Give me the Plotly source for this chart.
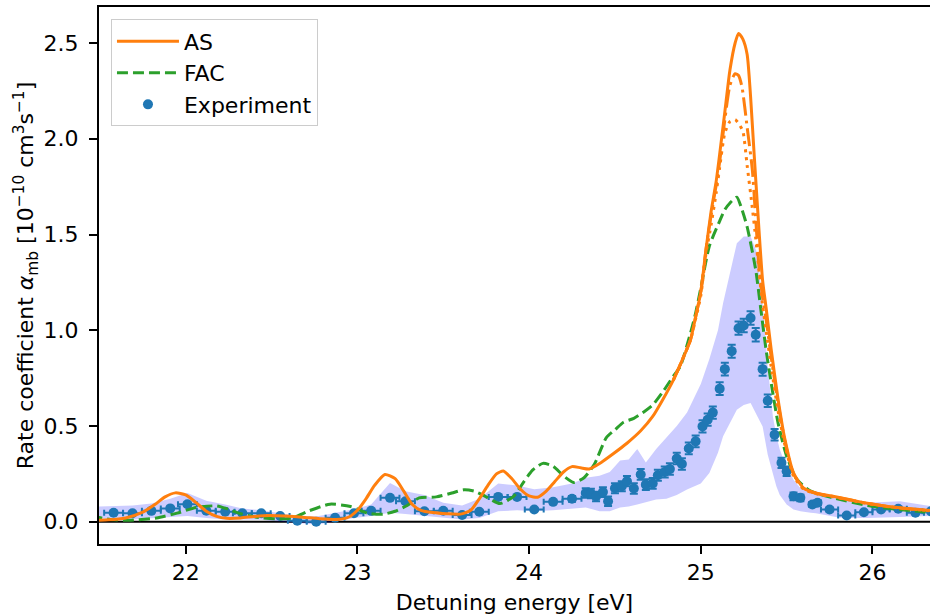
import plotly.graph_objects as go

# ---------------- data ----------------
as_x = [21.45, 21.55, 21.65, 21.75, 21.82, 21.88, 21.94, 22.00, 22.06, 22.12, 22.18, 22.24,
        22.32, 22.40, 22.49, 22.58, 22.68, 22.78, 22.88, 22.95, 23.00, 23.05, 23.10, 23.16,
        23.22, 23.27, 23.32, 23.37, 23.44, 23.52, 23.60, 23.66, 23.71, 23.76, 23.81, 23.85,
        23.90, 23.95, 24.00, 24.05, 24.10, 24.15, 24.20, 24.25, 24.30, 24.35, 24.42, 24.49,
        24.57, 24.65, 24.72, 24.78, 24.84, 24.89, 24.94, 24.97, 25.00, 25.03, 25.06, 25.09,
        25.11, 25.14, 25.17, 25.20, 25.22, 25.245, 25.27, 25.29, 25.31, 25.34, 25.36, 25.38,
        25.41, 25.45, 25.49, 25.54, 25.60, 25.68, 25.77, 25.87, 25.97, 26.07, 26.16, 26.26, 26.35]
as_y = [0.008, 0.010, 0.020, 0.050, 0.090, 0.130, 0.151, 0.140, 0.100, 0.055, 0.028, 0.018,
        0.020, 0.028, 0.033, 0.030, 0.024, 0.016, 0.012, 0.025, 0.060, 0.120, 0.190, 0.247,
        0.225, 0.160, 0.090, 0.060, 0.048, 0.042, 0.040, 0.060, 0.120, 0.190, 0.250, 0.265,
        0.225, 0.170, 0.135, 0.128, 0.160, 0.210, 0.260, 0.288, 0.282, 0.276, 0.310, 0.355,
        0.410, 0.475, 0.550, 0.640, 0.740, 0.840, 0.950, 1.070, 1.200, 1.420, 1.620, 1.780,
        1.920, 2.140, 2.360, 2.500, 2.550, 2.520, 2.440, 2.220, 1.930, 1.510, 1.260, 1.120,
        0.900, 0.640, 0.430, 0.255, 0.175, 0.148, 0.133, 0.115, 0.097, 0.083, 0.073, 0.065, 0.058]

# AS variants (dash-dot and dotted) around the main resonance
asdd_x = [24.84, 24.89, 24.94, 24.97, 25.00, 25.03, 25.06, 25.09, 25.11, 25.14, 25.17, 25.20,
          25.22, 25.24, 25.27, 25.30, 25.32, 25.34, 25.36, 25.38, 25.41, 25.45, 25.49, 25.54,
          25.60, 25.68, 25.77, 25.87, 25.97, 26.07, 26.16, 26.26, 26.35]
asdd_y = [0.740, 0.840, 0.950, 1.070, 1.200, 1.420, 1.600, 1.760, 1.880, 2.100, 2.280, 2.340,
          2.330, 2.270, 2.060, 1.840, 1.580, 1.320, 1.170, 1.060, 0.860, 0.620, 0.420, 0.250,
          0.172, 0.146, 0.132, 0.114, 0.096, 0.082, 0.072, 0.064, 0.057]
asdot_x = [24.84, 24.89, 24.94, 24.97, 25.00, 25.03, 25.06, 25.09, 25.11, 25.14, 25.17, 25.20,
           25.22, 25.245, 25.27, 25.30, 25.32, 25.34, 25.36, 25.38, 25.41, 25.45, 25.49, 25.54,
           25.60, 25.68, 25.77, 25.87, 25.97, 26.07, 26.16, 26.26, 26.35]
asdot_y = [0.740, 0.840, 0.950, 1.060, 1.180, 1.400, 1.550, 1.720, 1.850, 2.030, 2.090, 2.100,
           2.080, 2.040, 1.860, 1.640, 1.480, 1.300, 1.130, 1.000, 0.810, 0.580, 0.400, 0.240,
           0.170, 0.145, 0.131, 0.113, 0.095, 0.081, 0.071, 0.063, 0.056]

fac_x = [21.45, 21.56, 21.68, 21.83, 21.95, 22.06, 22.18, 22.25, 22.32, 22.43, 22.53, 22.62,
         22.72, 22.84, 22.96, 23.06, 23.15, 23.22, 23.29, 23.36, 23.46, 23.55, 23.62, 23.68,
         23.74, 23.83, 23.91, 23.97, 24.02, 24.08, 24.14, 24.20, 24.26, 24.32, 24.38, 24.45,
         24.50, 24.55, 24.61, 24.67, 24.72, 24.78, 24.84, 24.88, 24.94, 24.97, 25.00, 25.05,
         25.11, 25.14, 25.17, 25.21, 25.24, 25.27, 25.32, 25.35, 25.38, 25.41, 25.45, 25.50,
         25.56, 25.64, 25.77, 25.97, 26.16, 26.35]
fac_y = [0.030, 0.012, 0.008, 0.020, 0.045, 0.075, 0.083, 0.065, 0.042, 0.022, 0.015, 0.020,
         0.058, 0.092, 0.080, 0.045, 0.040, 0.055, 0.085, 0.125, 0.130, 0.150, 0.167, 0.160,
         0.135, 0.095, 0.133, 0.210, 0.270, 0.305, 0.290, 0.240, 0.205, 0.230, 0.300, 0.440,
         0.480, 0.520, 0.540, 0.575, 0.610, 0.680, 0.760, 0.810, 0.985, 1.090, 1.220, 1.440,
         1.570, 1.630, 1.665, 1.695, 1.630, 1.540, 1.316, 1.107, 0.900, 0.725, 0.516, 0.342,
         0.221, 0.160, 0.125, 0.085, 0.064, 0.047]

exp_x = [21.58, 21.69, 21.80, 21.91, 22.01, 22.12, 22.23, 22.33, 22.44, 22.55,
         22.65, 22.76, 22.87, 22.98, 23.08, 23.19, 23.28, 23.39, 23.50, 23.61,
         23.71, 23.82, 23.93, 24.03, 24.14, 24.25, 24.33, 24.36, 24.39, 24.43,
         24.46, 24.50, 24.54, 24.57, 24.61, 24.65, 24.68, 24.72, 24.75, 24.79,
         24.82, 24.86, 24.89, 24.93, 24.97, 25.01, 25.04, 25.07, 25.11, 25.14,
         25.18, 25.22, 25.25, 25.29, 25.32, 25.36, 25.39, 25.43, 25.47, 25.50,
         25.54, 25.58, 25.65, 25.68, 25.75, 25.85, 25.95, 26.05, 26.15, 26.25,
         26.34]
exp_y = [0.047, 0.045, 0.057, 0.070, 0.092, 0.058, 0.052, 0.045, 0.045, 0.030,
         0.005, 0.000, 0.021, 0.045, 0.057, 0.125, 0.107, 0.055, 0.058, 0.035,
         0.052, 0.130, 0.130, 0.064, 0.104, 0.120, 0.150, 0.148, 0.132, 0.155,
         0.107, 0.175, 0.186, 0.212, 0.174, 0.247, 0.194, 0.200, 0.243, 0.260,
         0.275, 0.330, 0.302, 0.383, 0.420, 0.498, 0.533, 0.570, 0.695, 0.797,
         0.891, 1.011, 1.025, 1.064, 0.977, 0.797, 0.632, 0.455, 0.308, 0.264,
         0.133, 0.125, 0.090, 0.099, 0.064, 0.033, 0.050, 0.064, 0.068, 0.047,
         0.055]
exp_xerr = [0.055, 0.055, 0.055, 0.055, 0.055, 0.055, 0.055, 0.055, 0.055, 0.055,
            0.055, 0.055, 0.055, 0.055, 0.055, 0.055, 0.055, 0.055, 0.055, 0.055,
            0.055, 0.055, 0.055, 0.055, 0.055, 0.055, 0.015, 0.015, 0.015, 0.015,
            0.015, 0.015, 0.015, 0.015, 0.015, 0.015, 0.015, 0.015, 0.015, 0.015,
            0.015, 0.015, 0.015, 0.015, 0.015, 0.015, 0.015, 0.015, 0.015, 0.015,
            0.015, 0.015, 0.015, 0.015, 0.015, 0.015, 0.015, 0.015, 0.015, 0.015,
            0.015, 0.015, 0.020, 0.020, 0.050, 0.050, 0.050, 0.050, 0.050, 0.050,
            0.050]
exp_yerr = [0.008, 0.008, 0.008, 0.008, 0.010, 0.008, 0.008, 0.008, 0.008, 0.008,
            0.008, 0.008, 0.008, 0.008, 0.008, 0.010, 0.010, 0.008, 0.008, 0.008,
            0.008, 0.010, 0.010, 0.008, 0.010, 0.015, 0.025, 0.025, 0.025, 0.025,
            0.025, 0.026, 0.026, 0.027, 0.027, 0.028, 0.028, 0.028, 0.029, 0.029,
            0.030, 0.030, 0.030, 0.031, 0.031, 0.032, 0.032, 0.032, 0.033, 0.033,
            0.034, 0.035, 0.035, 0.035, 0.035, 0.034, 0.032, 0.030, 0.027, 0.025,
            0.020, 0.018, 0.012, 0.012, 0.010, 0.008, 0.008, 0.008, 0.008, 0.008,
            0.008]

band_x = [21.45, 21.58, 21.69, 21.80, 21.91, 22.01, 22.12, 22.23, 22.33, 22.44, 22.55, 22.65,
          22.76, 22.87, 22.98, 23.08, 23.19, 23.28, 23.39, 23.50, 23.61, 23.71, 23.82, 23.93,
          24.03, 24.14, 24.25, 24.33, 24.41, 24.47, 24.53, 24.58, 24.63, 24.68, 24.74, 24.80,
          24.86, 24.92, 25.00, 25.05, 25.10, 25.13, 25.21, 25.25, 25.29, 25.33, 25.36, 25.39,
          25.42, 25.44, 25.46, 25.48, 25.50, 25.54, 25.58, 25.64, 25.67, 25.81, 25.97, 26.16, 26.35]
band_lo = [0.018, 0.015, 0.012, 0.018, 0.025, 0.030, 0.020, 0.012, 0.012, 0.010, 0.000, -0.008,
           -0.014, 0.000, 0.020, 0.030, 0.047, 0.040, 0.030, 0.022, 0.012, 0.020, 0.055, 0.060,
           0.055, 0.060, 0.070, 0.075, 0.055, 0.055, 0.075, 0.080, 0.090, 0.100, 0.116, 0.120,
           0.140, 0.168, 0.200, 0.255, 0.360, 0.446, 0.585, 0.610, 0.620, 0.550, 0.498, 0.350,
           0.250, 0.186, 0.140, 0.116, 0.090, 0.064, 0.055, 0.047, 0.045, 0.021, 0.020, 0.025, 0.030]
band_hi = [0.078, 0.082, 0.085, 0.095, 0.120, 0.150, 0.110, 0.090, 0.070, 0.060, 0.045, 0.030,
           0.028, 0.045, 0.065, 0.090, 0.203, 0.160, 0.140, 0.100, 0.085, 0.120, 0.200, 0.190,
           0.170, 0.180, 0.200, 0.230, 0.240, 0.260, 0.320, 0.325, 0.380, 0.310, 0.380, 0.440,
           0.500, 0.570, 0.720, 0.850, 1.000, 1.142, 1.455, 1.490, 1.490, 1.400, 1.140, 0.810,
           0.550, 0.450, 0.377, 0.330, 0.290, 0.220, 0.177, 0.160, 0.160, 0.125, 0.099, 0.107, 0.081]

y_ticks = [0.0, 0.5, 1.0, 1.5, 2.0, 2.5]
x_ticks = [22, 23, 24, 25, 26]

# ---------------- styling ----------------
FONT = "DejaVu Sans"
FS = 22
C_AS = "#ff7f0e"
C_FAC = "#2ca02c"
C_EXP = "#1f77b4"
C_BAND = "rgba(0,0,255,0.2)"

fig = go.Figure()

# shaded uncertainty band
fig.add_trace(go.Scatter(x=band_x, y=band_lo, mode="lines", line=dict(width=0),
                         showlegend=False, hoverinfo="skip"))
fig.add_trace(go.Scatter(x=band_x, y=band_hi, mode="lines", line=dict(width=0),
                         fill="tonexty", fillcolor=C_BAND, showlegend=False, hoverinfo="skip"))

# experiment
fig.add_trace(go.Scatter(
    x=exp_x, y=exp_y, mode="markers", name="Experiment", legendrank=3,
    marker=dict(color=C_EXP, size=10),
    error_x=dict(type="data", array=exp_xerr, color=C_EXP, thickness=2, width=3),
    error_y=dict(type="data", array=exp_yerr, color=C_EXP, thickness=2, width=4),
))

# FAC
fig.add_trace(go.Scatter(x=fac_x, y=fac_y, mode="lines", name="FAC", legendrank=2,
                         line=dict(color=C_FAC, width=3, dash="11px,5px",
                                   shape="spline", smoothing=0.6)))

# AS variants
fig.add_trace(go.Scatter(x=asdot_x, y=asdot_y, mode="lines", showlegend=False,
                         line=dict(color=C_AS, width=3, dash="3px,5px",
                                   shape="spline", smoothing=0.6)))
fig.add_trace(go.Scatter(x=asdd_x, y=asdd_y, mode="lines", showlegend=False,
                         line=dict(color=C_AS, width=3, dash="18px,5px,3px,5px",
                                   shape="spline", smoothing=0.6)))
fig.add_trace(go.Scatter(x=as_x, y=as_y, mode="lines", name="AS", legendrank=1,
                         line=dict(color=C_AS, width=3, shape="spline", smoothing=0.6)))

# horizontal zero line
fig.add_shape(type="line", xref="paper", x0=0, x1=1, yref="y", y0=0, y1=0,
              line=dict(color="black", width=2), layer="below")

fig.update_layout(
    width=930, height=615,
    margin=dict(l=99, r=0, t=7, b=71, autoexpand=False),
    paper_bgcolor="white", plot_bgcolor="white",
    font=dict(family=FONT, size=FS, color="black"),
    showlegend=True,
    legend=dict(x=0.0144, y=0.977, xanchor="left", yanchor="top",
                bgcolor="rgba(255,255,255,0.8)", bordercolor="#cccccc", borderwidth=1,
                font=dict(family=FONT, size=FS), itemwidth=62,
                traceorder="normal", tracegroupgap=4),
    xaxis=dict(range=[21.495, 26.335], tickvals=x_ticks, ticktext=[str(v) for v in x_ticks],
               ticks="outside", ticklen=8, tickwidth=2, tickcolor="black",
               showline=True, linecolor="black", linewidth=2, mirror=True,
               showgrid=False, zeroline=False, automargin=False,
               title=dict(text="Detuning energy [eV]", standoff=11,
                          font=dict(family=FONT, size=FS))),
    yaxis=dict(range=[-0.116, 2.688], tickvals=y_ticks, ticktext=[f"{v:.1f}" for v in y_ticks],
               ticks="outside", ticklen=8, tickwidth=2, tickcolor="black",
               ticklabelstandoff=6,
               showline=True, linecolor="black", linewidth=2, mirror=False,
               showgrid=False, zeroline=False, automargin=False,
               title=dict(text="Rate coefficient <i>α</i><sub>mb</sub> [10<sup>−10</sup> cm<sup>3</sup>s<sup>−1</sup>]",
                          standoff=4, font=dict(family=FONT, size=FS))),
)

fig.write_html("out.html", config={"displayModeBar": False},
               post_script="document.body.style.margin='0';document.body.style.padding='0';")
